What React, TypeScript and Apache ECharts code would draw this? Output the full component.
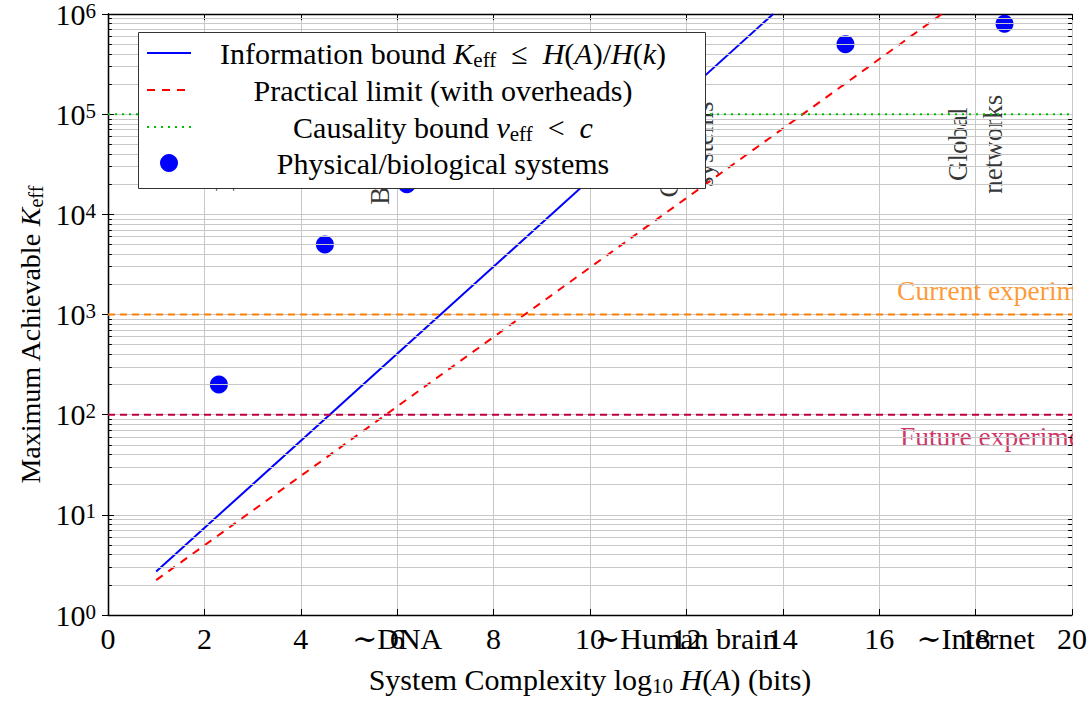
import React, { useEffect, useRef } from 'react';
import * as echarts from 'echarts';

// ---- data ----
const infoBoundX = [1, 13.8];
const infoBoundK = [2.72, 1e6];
const practicalX = [1, 17.3];
const practicalK = [2.23, 1e6];
const systemX = [2.3, 4.5, 6.2, 15.3, 18.6];
const systemK = [200, 5000, 20000, 500000, 800000];
const causalityK = 1e5;
const currentExpK = 1e3;
const futureExpK = 1e2;
const systemLabelX = [2.43, 5.65, 12, 18];
const systemLabelK = [5e4, 5e4, 5e4, 5e4];
const systemLabels = ['Ion traps', 'Bird flocks', 'Cognitive\nsystems', 'Global\nnetworks'];
const landmarkX = [6, 12, 18];
const landmarkLabels = ['\u223CDNA', '\u223CHuman brain', '\u223CInternet'];
const expLabelX = [16.37, 16.43];
const expLabelK = [1750, 60];
const expLabels = ['Current experiments', 'Future experiments'];
const expColors = ['#ff8000', '#bf0040'];
const xMin = 0;
const xMax = 20;
const xStep = 2;
const yMin = 1;
const yMax = 1e6;

const FAM = "'Liberation Serif', 'DejaVu Serif', serif";
const F = FAM;
const FS = 30;
const tok = (fs: number, lh: number, italic: boolean, va?: string): any => {
  const o: any = {
    fontFamily: FAM, fontSize: fs, lineHeight: lh, color: '#000', fill: '#000',
    fontStyle: italic ? 'italic' : 'normal',
    font: `${italic ? 'italic ' : ''}${fs}px ${FAM}`,
  };
  if (va) o.verticalAlign = va;
  return o;
};
const makeRich = (fs: number, lh: number, sfs: number, slh: number): any => ({
  n: tok(fs, lh, false),
  i: tok(fs, lh, true),
  sub: tok(sfs, slh, false, 'bottom'),
  sup: tok(sfs, slh, false, 'top'),
});
const rich = makeRich(FS, 34, 21, 17);
const yRich = makeRich(FS, 28, 21, 14);
const yTitleRich = makeRich(28, 32, 20, 16);

// minor log grid lines / ticks (axis structure)
const minorGrid: number[] = [];
for (let d = 0; d < 6; d++) for (let m = 2; m <= 9; m++) minorGrid.push(m * Math.pow(10, d));
const minorTickLen = 0.08; // in x units (≈4px)

const legendRows = [
  '{n|Information bound }{i|K}{sub|eff}{n|  \u2264  }{i|H}{n|(}{i|A}{n|)/}{i|H}{n|(}{i|k}{n|)}',
  '{n|Practical limit (with overheads)}',
  '{n|Causality bound }{i|v}{sub|eff}{n|  <  }{i|c}',
  '{n|Physical/biological systems}',
];

export default function App() {
  const ref = useRef<HTMLDivElement>(null);
  useEffect(() => {
    if (!ref.current) return;
    const chart = echarts.init(ref.current, null, { renderer: 'svg' });
    const gridColor = '#c8c8c8';
    const axisCommon = {
      axisLine: { show: true, lineStyle: { color: '#000', width: 1.3 } },
      axisTick: { show: true, inside: true, length: 6, lineStyle: { color: '#000', width: 1 } },
    };
    const rowY = [53, 90, 127, 163];
    const minorTicks: any[] = [];
    minorGrid.forEach((v) => {
      minorTicks.push([{ coord: [xMin, v] }, { coord: [xMin + minorTickLen, v] }]);
      minorTicks.push([{ coord: [xMax - minorTickLen, v] }, { coord: [xMax, v] }]);
    });
    const option: any = {
      animation: false,
      backgroundColor: '#fff',
      textStyle: { fontFamily: F },
      grid: { left: 108, right: 20, top: 14, bottom: 87, containLabel: false, outerBoundsMode: 'none' },
      xAxis: [
        {
          type: 'value', min: xMin, max: xMax, interval: xStep, position: 'bottom',
          ...axisCommon,
          axisLabel: { margin: 8, fontFamily: F, fontSize: FS, color: '#000' },
          splitLine: { show: true, lineStyle: { color: gridColor, width: 1 } },
          name: '{n|System Complexity log}{sub|10}{n| }{i|H}{n|(}{i|A}{n|) (bits)}',
          nameLocation: 'middle', nameGap: 47,
          nameTextStyle: { rich },
        },
        {
          type: 'value', min: xMin, max: xMax, position: 'bottom',
          axisLine: { show: false }, axisTick: { show: false }, splitLine: { show: false },
          axisLabel: {
            customValues: landmarkX,
            formatter: (v: number) => {
              const i = landmarkX.indexOf(v);
              return i >= 0 ? landmarkLabels[i] : '';
            },
            margin: 8, fontFamily: F, fontSize: FS, color: '#000',
          },
        },
        {
          type: 'value', min: xMin, max: xMax, interval: xStep, position: 'top',
          ...axisCommon,
          axisLabel: { show: false }, splitLine: { show: false },
        },
      ],
      yAxis: [
        {
          type: 'log', logBase: 10, min: yMin, max: yMax, position: 'left',
          ...axisCommon,
          axisLabel: {
            margin: 12,
            formatter: (v: number) => `{n|10}{sup|${Math.round(Math.log10(v))}}`,
            rich: yRich,
          },
          splitLine: { show: true, lineStyle: { color: gridColor, width: 1 } },
        },
        {
          type: 'log', logBase: 10, min: yMin, max: yMax, position: 'right',
          ...axisCommon,
          axisLabel: { show: false }, splitLine: { show: false },
        },
      ],
      series: [
        {
          type: 'line', data: [], z: 1, silent: true,
          markLine: {
            silent: true, symbol: ['none', 'none'], label: { show: false },
            lineStyle: { color: gridColor, type: 'solid', width: 1 },
            emphasis: { disabled: true },
            data: minorGrid.map((v) => ({ yAxis: v })),
          },
        },
        {
          type: 'line', data: [], z: 1.5, silent: true,
          markLine: {
            silent: true, symbol: ['none', 'none'], label: { show: false },
            lineStyle: { color: '#000', type: 'solid', width: 1 },
            emphasis: { disabled: true },
            data: minorTicks,
          },
        },
        {
          type: 'line', symbol: 'none', data: infoBoundX.map((x, i) => [x, infoBoundK[i]]),
          lineStyle: { color: '#0000ff', width: 2 },
        },
        {
          type: 'line', symbol: 'none', data: practicalX.map((x, i) => [x, practicalK[i]]),
          lineStyle: { color: '#ff0000', width: 2, type: [8, 7] },
        },
        {
          type: 'line', symbol: 'none', data: [[xMin, causalityK], [xMax, causalityK]],
          lineStyle: { color: '#00c000', width: 2, type: [2, 5] },
        },
        {
          type: 'scatter', symbol: 'circle', symbolSize: 18,
          data: systemX.map((x, i) => [x, systemK[i]]),
          itemStyle: { color: '#0000ff', opacity: 1 },
        },
        {
          type: 'line', symbol: 'none', data: [[xMin, currentExpK], [xMax, currentExpK]],
          lineStyle: { color: expColors[0], width: 2, type: [7, 5] },
        },
        {
          type: 'line', symbol: 'none', data: [[xMin, futureExpK], [xMax, futureExpK]],
          lineStyle: { color: expColors[1], width: 2, type: [7, 5] },
        },
        {
          type: 'scatter', symbolSize: 0, silent: true,
          data: systemLabelX.map((x, i) => [x, systemLabelK[i]]),
          label: {
            show: true, position: 'inside', rotate: 90, align: 'center', verticalAlign: 'middle',
            formatter: (p: any) => systemLabels[p.dataIndex],
            fontFamily: F, fontSize: 27, lineHeight: 35, color: '#000',
          },
        },
        {
          type: 'scatter', symbolSize: 0, silent: true,
          data: expLabelX.map((x, i) => ({
            value: [x, expLabelK[i]],
            label: { color: expColors[i] },
          })),
          label: {
            show: true, position: 'inside', align: 'left', verticalAlign: 'middle',
            formatter: (p: any) => expLabels[p.dataIndex],
            fontFamily: F, fontSize: 27.5,
          },
        },
      ],
      graphic: [
        { type: 'rect', z: 100, shape: { x: 1073, y: 260, width: 19, height: 210 }, style: { fill: '#fff' } },
        {
          type: 'text', z: 100, x: 30, y: 335, rotation: Math.PI / 2,
          style: {
            text: '{n|Maximum Achievable }{i|K}{sub|eff}', rich: yTitleRich,
            font: `28px ${FAM}`, fontFamily: FAM, fontSize: 28,
            align: 'center', verticalAlign: 'middle',
          },
        },
        { type: 'rect', z: 100, shape: { x: 138.5, y: 32.5, width: 567, height: 156 }, style: { fill: '#fff', stroke: '#333', lineWidth: 1 } },
        { type: 'line', z: 101, shape: { x1: 147, y1: rowY[0], x2: 191, y2: rowY[0] }, style: { stroke: '#0000ff', lineWidth: 2 } },
        { type: 'line', z: 101, shape: { x1: 147, y1: rowY[1], x2: 191, y2: rowY[1] }, style: { stroke: '#ff0000', lineWidth: 2, lineDash: [8, 7] } },
        { type: 'line', z: 101, shape: { x1: 147, y1: rowY[2], x2: 191, y2: rowY[2] }, style: { stroke: '#00c000', lineWidth: 2, lineDash: [2, 5] } },
        { type: 'circle', z: 101, shape: { cx: 169, cy: rowY[3], r: 9 }, style: { fill: '#0000ff' } },
        ...legendRows.map((t, i) => ({
          type: 'text', z: 101, x: 443, y: rowY[i],
          style: {
            text: t, rich, font: `${FS}px ${FAM}`, fontFamily: FAM, fontSize: FS,
            align: 'center', verticalAlign: 'middle',
          },
        })),
      ],
    };
    chart.setOption(option);
    return () => chart.dispose();
  }, []);
  return <div ref={ref} style={{ position: 'absolute', left: 0, top: 0, width: 1092, height: 702 }} />;
}
